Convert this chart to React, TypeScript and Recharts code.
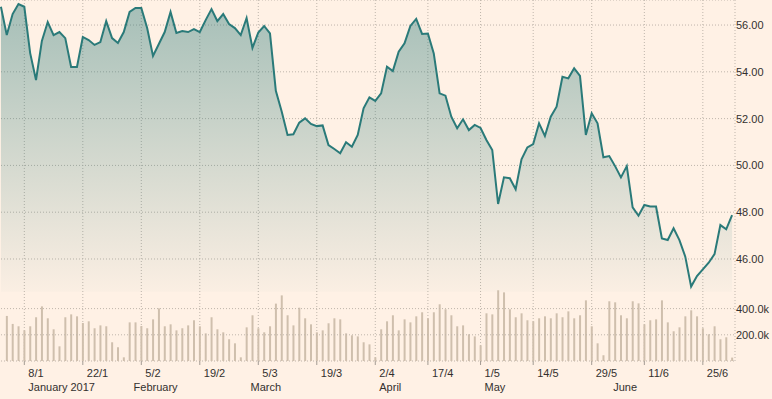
import {
  ComposedChart,
  Area,
  Bar,
  XAxis,
  YAxis,
  CartesianGrid,
  ReferenceLine,
} from "recharts";

// trading days (Sun-Thu week)
const dates = [
  "2/1", "3/1", "4/1", "5/1",
  "8/1", "9/1", "10/1", "11/1", "12/1",
  "15/1", "16/1", "17/1", "18/1", "19/1",
  "22/1", "23/1", "24/1", "25/1", "26/1",
  "29/1", "30/1", "31/1", "1/2", "2/2",
  "5/2", "6/2", "7/2", "8/2", "9/2",
  "12/2", "13/2", "14/2", "15/2", "16/2",
  "19/2", "20/2", "21/2", "22/2", "23/2",
  "26/2", "27/2", "28/2", "1/3", "2/3",
  "5/3", "6/3", "7/3", "8/3", "9/3",
  "12/3", "13/3", "14/3", "15/3", "16/3",
  "19/3", "20/3", "21/3", "22/3", "23/3",
  "26/3", "27/3", "28/3", "29/3", "30/3",
  "2/4", "3/4", "4/4", "5/4", "6/4",
  "9/4", "10/4", "12/4", "13/4",
  "17/4", "18/4", "19/4", "20/4",
  "23/4", "24/4", "25/4", "26/4", "27/4",
  "1/5", "2/5", "3/5", "4/5",
  "7/5", "8/5", "9/5", "10/5", "11/5",
  "14/5", "15/5", "16/5", "17/5", "18/5",
  "21/5", "22/5", "23/5", "24/5", "25/5",
  "29/5", "30/5", "31/5", "1/6",
  "4/6", "5/6", "6/6", "7/6", "8/6",
  "11/6", "12/6", "13/6", "14/6", "15/6",
  "18/6", "19/6", "20/6", "21/6", "22/6",
  "25/6", "26/6", "27/6", "28/6", "29/6",
  "2/7",
];

const prices = [
  56.78, 55.57, 56.47, 56.9,
  56.78, 54.8, 53.65, 55.32, 56.13,
  55.57, 55.7, 55.44, 54.21, 54.21,
  55.49, 55.36, 55.15, 55.27, 56.17,
  55.44, 55.23, 55.7, 56.56, 56.73,
  56.73, 55.87, 54.68, 55.19, 55.7,
  56.56, 55.66, 55.74, 55.7, 55.83,
  55.7, 56.21, 56.68, 56.17, 56.47,
  56.04, 55.87, 55.57, 56.3, 55.02,
  55.68, 55.96, 55.64, 53.19, 52.3,
  51.3, 51.33, 51.83, 52.01, 51.77,
  51.68, 51.71, 50.87, 50.7, 50.52,
  50.99, 50.8, 51.3, 52.44, 52.91,
  52.76, 53.08, 54.22, 54.03, 54.86,
  55.22, 55.96, 56.26, 55.62,
  55.64, 54.79, 53.08, 52.98,
  52.08, 51.59, 51.97, 51.51, 51.73,
  51.6, 51.09, 50.66, 48.35,
  49.49, 49.45, 48.98, 50.26, 50.77,
  50.91, 51.8, 51.26, 52.08, 52.51,
  53.79, 53.72, 54.15, 53.83, 51.3,
  52.23, 51.8, 50.35, 50.4,
  49.97, 49.49, 49.97, 48.21, 47.85,
  48.31, 48.24, 48.24, 46.88, 46.81,
  47.31, 46.81, 46.1, 44.82, 45.27,
  45.56, 45.84, 46.21, 47.45, 47.27,
  47.88,
];

// volume in thousands
const volumes = [
  null, 344, 283, 265,
  234, 265, 334, 417, 326,
  242, 112, 334, 356, 341,
  290, 303, 250, 272, 265,
  143, 105, 28, 295, 295,
  267, 250, 318, 402, 265,
  280, 234, 250, 272, 311,
  265, 211, 334, 242, 219,
  166, 135, 28, 257, 349,
  250, 219, 265, 438, 501,
  349, 272, 407, 326, 280,
  219, 234, 288, 326, 318,
  211, 196, 188, 143, 127,
  28, 242, 303, 349, 234,
  318, 295, 341, 372,
  326, 372, 433, 395,
  349, 265, 272, 204, 188,
  120, 364, 356, 540,
  524, 395, 334, 364, 311,
  303, 326, 341, 326, 364,
  334, 379, 326, 349, 463,
  265, 135, 44, 456,
  448, 349, 326, 456, 440,
  280, 311, 318, 463, 295,
  227, 257, 341, 387, 341,
  250, 204, 265, 166, 181,
  26,
];

const dateTicks = ["8/1", "22/1", "5/2", "19/2", "5/3", "19/3", "2/4", "17/4", "1/5", "14/5", "29/5", "11/6", "25/6"];
const monthTicks = ["8/1", "1/2", "1/3", "2/4", "1/5", "1/6"];
const monthLabels = ["January 2017", "February", "March", "April", "May", "June"];
const priceTicks = [46, 48, 50, 52, 54, 56];
const volumeTicks = [200, 400];

const data = dates.map((date, i) => ({ date, price: prices[i], volume: volumes[i] }));

const BG = "#fff1e5";
const LINE = "#2a7a79";
const BAR = "#cfbfad";
const GRID = "#bfb5ab";
const TEXT = "#33302e";
const FONT = "'Liberation Sans', Arial, sans-serif";

const DateTick = (props: any) => {
  const { x, y, payload } = props;
  return (
    <text x={x + 4} y={y + 9.5} textAnchor="start" fill={TEXT} fontSize={11} fontFamily={FONT}>
      {payload.value}
    </text>
  );
};

const MonthTick = (props: any) => {
  const { x, y, payload } = props;
  const label = monthLabels[monthTicks.indexOf(payload.value)];
  return (
    <text x={x + 4} y={y + 14} textAnchor="start" fill={TEXT} fontSize={11} fontFamily={FONT}>
      {label}
    </text>
  );
};

const App = () => {
  return (
    <div
      style={{
        position: "absolute",
        left: 0,
        top: 0,
        width: 772,
        height: 399,
        background: BG,
        fontFamily: FONT,
      }}
    >
      <ComposedChart
        width={772}
        height={399}
        data={data}
        margin={{ top: 0, right: 0, bottom: 2, left: -2 }}
      >
        <defs>
          <linearGradient id="priceFill" x1="0" y1="0" x2="0" y2="1">
            <stop offset="0%" stopColor={LINE} stopOpacity={0.42} />
            <stop offset="100%" stopColor={LINE} stopOpacity={0.02} />
          </linearGradient>
        </defs>

        <CartesianGrid yAxisId="price" stroke={GRID} strokeDasharray="1 2" />

        <XAxis
          dataKey="date"
          ticks={dateTicks}
          interval={0}
          height={16}
          axisLine={false}
          tickLine={{ stroke: "#a39b93" }}
          tickSize={4}
          tickMargin={2}
          tick={<DateTick />}
        />
        <XAxis
          xAxisId="month"
          dataKey="date"
          ticks={monthTicks}
          interval={0}
          height={20}
          axisLine={false}
          tickLine={false}
          tickSize={0}
          tickMargin={0}
          tick={<MonthTick />}
        />

        <YAxis
          yAxisId="price"
          orientation="right"
          type="number"
          domain={[41.64, 57.07]}
          ticks={priceTicks}
          tickFormatter={(v: number) => v.toFixed(2)}
          axisLine={false}
          tickLine={false}
          tickSize={0}
          tickMargin={1}
          width={37}
          tick={{ fill: TEXT, fontSize: 11 }}
        />
        <YAxis yAxisId="vol" hide type="number" domain={[0, 2756]} />

        {volumeTicks.map((v) => (
          <ReferenceLine
            key={v}
            yAxisId="vol"
            y={v}
            stroke={GRID}
            strokeDasharray="1 2"
            label={{ value: `${v.toFixed(1)}k`, position: "right", offset: 1, fill: TEXT, fontSize: 11 }}
          />
        ))}

        <Bar yAxisId="vol" dataKey="volume" fill={BAR} barSize={2} isAnimationActive={false} />

        <Area
          yAxisId="price"
          type="linear"
          dataKey="price"
          baseValue={44.6}
          stroke={LINE}
          strokeWidth={2}
          fill="url(#priceFill)"
          fillOpacity={1}
          dot={false}
          activeDot={false}
          isAnimationActive={false}
        />
      </ComposedChart>
    </div>
  );
};

export default App;
